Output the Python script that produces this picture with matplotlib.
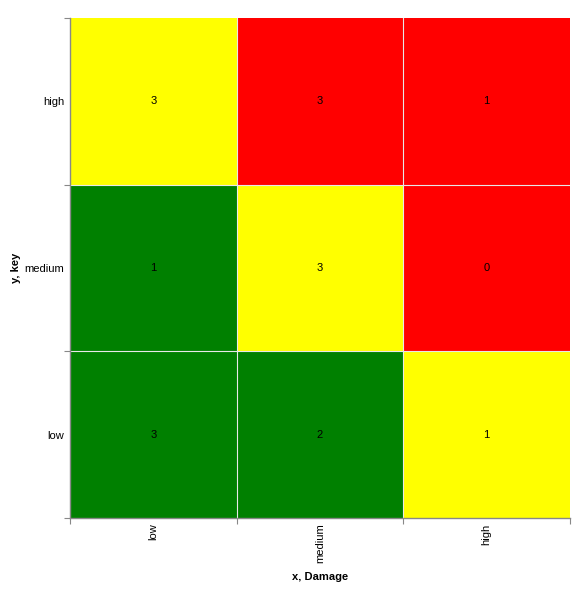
import numpy as np
import matplotlib.pyplot as plt
from matplotlib.colors import ListedColormap

plt.rcParams['font.family'] = ['Liberation Sans', 'DejaVu Sans']

x_labels = ['low', 'medium', 'high']
y_labels = ['low', 'medium', 'high']

# counts per cell, rows = y (low, medium, high), cols = x (low, medium, high)
counts = [[3, 2, 1],
          [1, 3, 0],
          [3, 3, 1]]

# risk level per cell: 0 = green, 1 = yellow, 2 = red
risk = [[0, 0, 1],
        [0, 1, 2],
        [1, 2, 2]]

risk_colors = ['#008000', '#ffff00', '#ff0000']

fig = plt.figure(figsize=(5.83, 5.95), dpi=100)
ax = fig.add_axes([70 / 583, 77 / 595, 500 / 583, 500 / 595])

cmap = ListedColormap(risk_colors)
ax.pcolormesh(np.arange(4), np.arange(4), np.array(risk), cmap=cmap,
              vmin=-0.5, vmax=2.5, edgecolor='none')

# thin separators between cells
for k in [1, 2]:
    ax.axvline(k, color='#e8e8e8', linewidth=0.8)
    ax.axhline(k, color='#e8e8e8', linewidth=0.8)

for i in range(len(y_labels)):
    for j in range(len(x_labels)):
        ax.text(j + 0.5, i + 0.5, str(counts[i][j]), ha='center', va='center',
                fontsize=8, color='black')

ax.set_xlim(0, 3)
ax.set_ylim(0, 3)

# ticks at cell boundaries, labels centred in cells
ax.set_xticks(np.arange(4))
ax.set_yticks(np.arange(4))
ax.set_xticklabels([])
ax.set_yticklabels([])
ax.set_xticks(np.arange(3) + 0.5, minor=True)
ax.set_yticks(np.arange(3) + 0.5, minor=True)
ax.set_xticklabels(x_labels, minor=True, rotation=90, fontsize=8)
ax.set_yticklabels(y_labels, minor=True, fontsize=8)
ax.tick_params(which='major', length=4, color='#888888', direction='out')
ax.tick_params(which='minor', length=0, pad=4)

for side in ['top', 'right']:
    ax.spines[side].set_visible(False)
for side in ['left', 'bottom']:
    ax.spines[side].set_color('#888888')
    ax.spines[side].set_linewidth(1)

ax.set_xlabel('x, Damage', fontsize=8, fontweight='bold', labelpad=6)
ax.set_ylabel('y, key', fontsize=8, fontweight='bold', labelpad=3)

fig.savefig('out.png', dpi=100)
